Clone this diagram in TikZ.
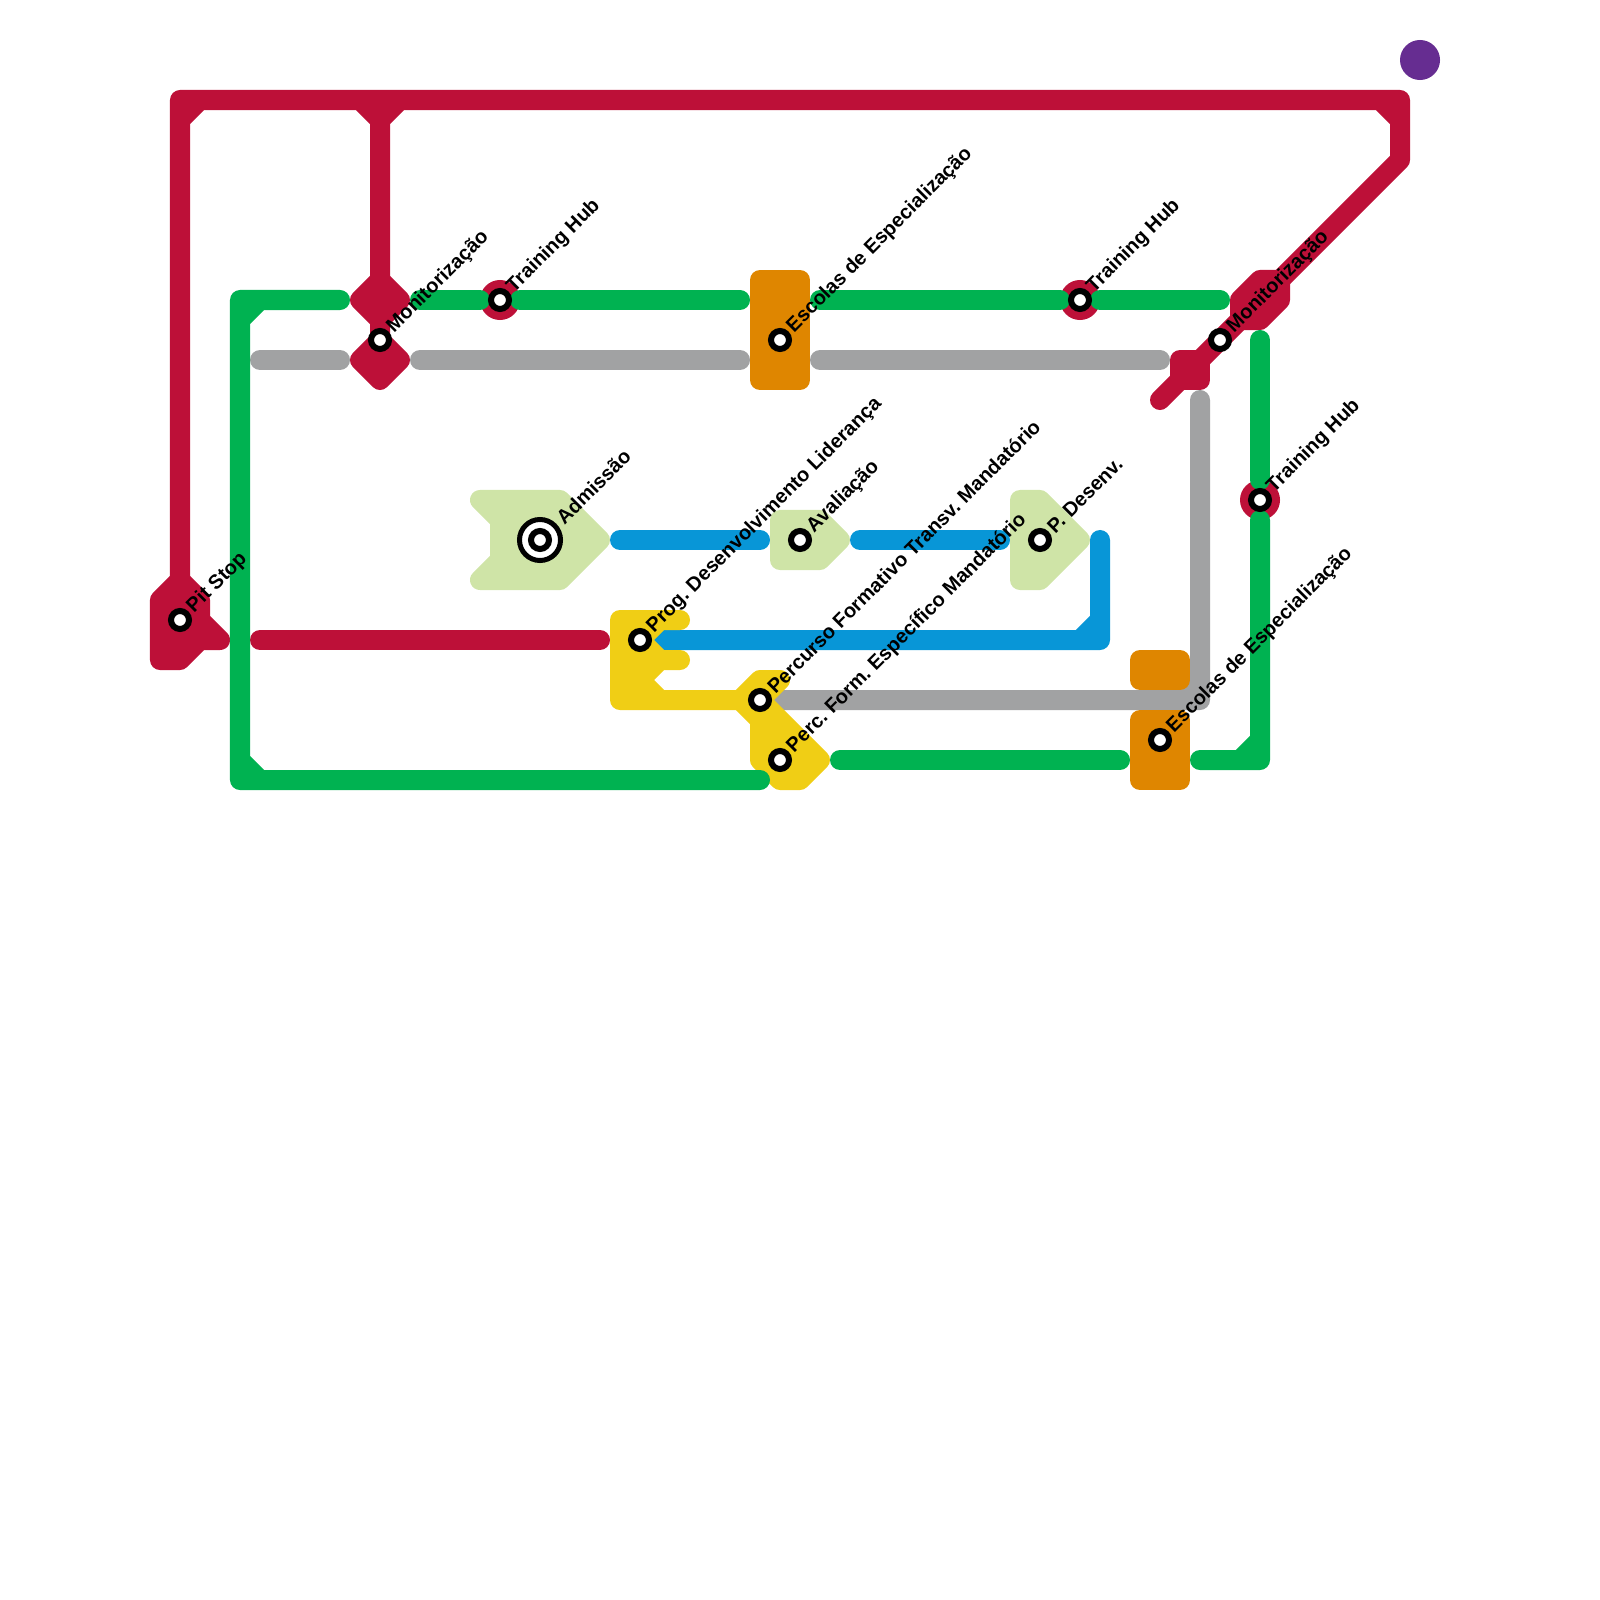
\documentclass[tikz,border=0pt]{standalone}
\usepackage{fontspec}
\setmainfont{Liberation Sans}
\usetikzlibrary{calc}
\definecolor{MetroRed}{HTML}{BD1038}
\definecolor{MetroGreen}{HTML}{00B251}
\definecolor{MetroGray}{HTML}{A1A2A3}
\definecolor{MetroBlue}{HTML}{0896D7}
\definecolor{MetroYellow}{HTML}{F0CE15}
\definecolor{MetroOrange}{HTML}{DF8600}
\definecolor{MetroTea}{HTML}{CFE4A7}
\definecolor{MetroPurple}{HTML}{662D91}
\tikzset{
  metro/line/.style={line width=5.69pt, line cap=round, line join=round, draw=#1},
  metro/shape/.style={metro/line=#1, fill=#1},
  metro/station/.style={circle, draw=black, line width=1.71pt, fill=white, minimum size=0.18cm, inner sep=0pt},
  metro/terminal/.style={circle, draw=black, line width=1.42pt, fill=white, minimum size=0.41cm, inner sep=0pt},
  metro/ring/.style={circle, fill=MetroRed, minimum size=0.4cm, inner sep=0pt},
  metro/text/.style={font=\frenchspacing\bfseries\fontsize{5.69}{6.8}\selectfont, text=black, anchor=west, rotate=45, inner sep=0pt}
}
\begin{document}
\begin{tikzpicture}[x=0.01cm,y=-0.01cm]
  \useasboundingbox (0,0) rectangle (1600,1600);
  % red
  \draw[metro/line=MetroRed] (180,580) -- (180,100) -- (1400,100) -- (1400,160) -- (1160,400)
    (180,120) -- (200,100) (360,100) -- (380,120) -- (400,100) (1380,100) -- (1400,120)
    (380,100) -- (380,360);
  \draw[metro/shape=MetroRed] (360,300) -- (380,280) -- (400,300) -- (380,320) -- cycle;
  \draw[metro/shape=MetroRed] (360,360) -- (380,340) -- (400,360) -- (380,380) -- cycle;
  \draw[metro/shape=MetroRed] (1180,360) -- (1200,360) -- (1200,380) -- (1180,380) -- cycle;
  \draw[metro/shape=MetroRed] (1240,300) -- (1260,280) -- (1280,280) -- (1280,300) -- (1260,320) -- (1240,320) -- cycle;
  \draw[metro/shape=MetroRed] (160,600) -- (180,580) -- (200,600) -- (200,620) -- (220,640) -- (200,640) -- (180,660) -- (160,660) -- cycle;
  \draw[metro/line=MetroRed] (260,640) -- (600,640);
  \foreach \n/\x/\y in {a/500/300,b/1080/300,c/1260/500}{\node[metro/ring] (ring\n) at (\x,\y) {};}
  % blue
  \draw[metro/line=MetroBlue] (620,540) -- (760,540);
  \draw[metro/line=MetroBlue] (860,540) -- (1000,540);
  \draw[metro/line=MetroBlue] (1100,540) -- (1100,640) -- (660,640) (1080,640) -- (1100,620);
  % gray
  \draw[metro/line=MetroGray] (260,360) -- (340,360);
  \draw[metro/line=MetroGray] (420,360) -- (740,360);
  \draw[metro/line=MetroGray] (820,360) -- (1160,360);
  \draw[metro/line=MetroGray] (780,700) -- (1200,700) -- (1200,400) (1180,700) -- (1200,680);
  % tea
  \draw[metro/shape=MetroTea] (480,500) -- (560,500) -- (600,540) -- (560,580) -- (480,580) -- (500,560) -- (500,520) -- cycle;
  \draw[metro/shape=MetroTea] (780,520) -- (820,520) -- (840,540) -- (820,560) -- (780,560) -- cycle;
  \draw[metro/shape=MetroTea] (1020,500) -- (1040,500) -- (1080,540) -- (1040,580) -- (1020,580) -- cycle;
  % orange
  \draw[metro/shape=MetroOrange] (760,280) -- (800,280) -- (800,380) -- (760,380) -- cycle;
  \draw[metro/shape=MetroOrange] (1140,660) -- (1180,660) -- (1180,680) -- (1140,680) -- cycle;
  \draw[metro/shape=MetroOrange] (1140,720) -- (1180,720) -- (1180,780) -- (1140,780) -- cycle;
  % yellow
  \draw[metro/shape=MetroYellow] (620,620) -- (680,620) -- (660,620) -- (640,640) -- (660,660) -- (680,660) -- (660,660) -- (640,680) -- (660,700) -- (740,700) -- (620,700) -- cycle;
  \draw[metro/shape=MetroYellow] (740,700) -- (760,680) -- (780,680) -- (760,700) -- (820,760) -- (800,780) -- (780,780) -- (760,760) -- (760,720) -- cycle;
  % green
  \draw[metro/line=MetroGreen] (340,300) -- (240,300) -- (240,780) -- (760,780) (260,300) -- (240,320) (240,760) -- (260,780);
  \draw[metro/line=MetroGreen] (420,300) -- (480,300);
  \draw[metro/line=MetroGreen] (520,300) -- (740,300);
  \draw[metro/line=MetroGreen] (820,300) -- (1060,300);
  \draw[metro/line=MetroGreen] (1100,300) -- (1220,300);
  \draw[metro/line=MetroGreen] (1260,340) -- (1260,480);
  \draw[metro/line=MetroGreen] (1260,520) -- (1260,760) -- (1200,760) (1240,760) -- (1260,740);
  \draw[metro/line=MetroGreen] (840,760) -- (1120,760);
  % stations
  \node[metro/terminal] (terminal) at (540,540) {};
  \foreach \n/\x/\y/\d/\t in {
    pit/180/620/10/Pit Stop,
    mona/380/340/10/Monitorização,
    huba/500/300/10/Training Hub,
    adm/540/540/19/Admissão,
    esca/780/340/10/Escolas de Especialização,
    prog/640/640/10/Prog. Desenvolvimento Liderança,
    aval/800/540/10/Avaliação,
    perc/760/700/10/Percurso Formativo Transv. Mandatório,
    form/780/760/10/Perc. Form. Específico Mandatório,
    pdes/1040/540/10/P. Desenv.,
    hubb/1080/300/10/Training Hub,
    monb/1220/340/10/Monitorização,
    hubc/1260/500/10/Training Hub,
    escb/1160/740/10/Escolas de Especialização}{
    \node[metro/station] (\n) at (\x,\y) {};
    \node[metro/text] (text\n) at ($(\n)+(\d,-\d)$) {\t};
  }
  \node[circle, fill=MetroPurple, minimum size=0.4cm, inner sep=0pt] (extra) at (1420,60) {};
\end{tikzpicture}
\end{document}
